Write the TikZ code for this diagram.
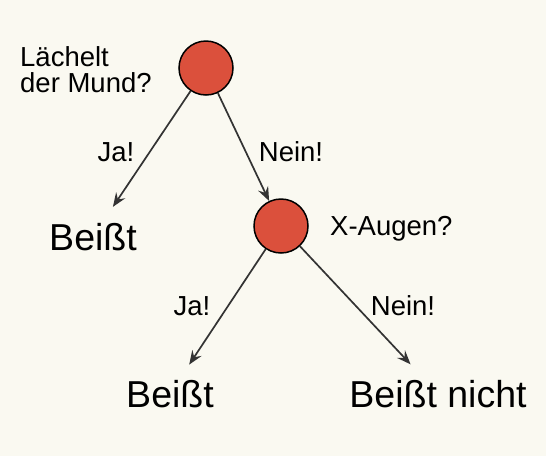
\documentclass[tikz,border=0pt]{standalone}
\usepackage{fontspec}
\setmainfont{Liberation Sans}
\usetikzlibrary{arrows.meta}
\definecolor{hintergrund}{RGB}{250,249,241}
\definecolor{knotenrot}{RGB}{219,80,60}
\definecolor{pfeilgrau}{RGB}{51,51,51}

\begin{document}
\begin{tikzpicture}[x=1pt, y=-1pt,
		frage/.style={circle, draw=black, line width=1.5pt, fill=knotenrot, minimum size=54pt, inner sep=0pt},
		txt/.style={font=\fontsize{27.5}{26}\selectfont, inner sep=0pt},
		blatt/.style={font=\fontsize{37.5}{40}\selectfont, inner sep=0pt},
		kante/.style={-{Stealth[length=14pt, width=11pt, inset=5pt]}, draw=pfeilgrau, line width=1.7pt}]
		\fill[hintergrund] (0,0) rectangle (546,456);
		% Fragen
		\node[frage] (F1) at (206, 68) {};
		\node[frage] (F2) at (281, 226) {};
		\node[txt, anchor=west, align=left] (T1) at (20, 70) {Lächelt\\der Mund?};
		\node[txt, anchor=base west] (T2) at (330, 235) {X-Augen?};
		% Antworten
		\node[blatt, anchor=base] (B1) at (93, 250) {Beißt};
		\node[blatt, anchor=base] (B2) at (170, 407) {Beißt};
		\node[blatt, anchor=base] (B3) at (438, 407) {Beißt nicht};
		% Kanten
		\draw[kante, shorten >=19pt] (F1) -- (B1);
		\draw[kante] (F1) -- (F2);
		\draw[kante, shorten >=18pt] (F2) -- (B2);
		\draw[kante, shorten >=21pt] (F2) -- (B3);
		% Beschriftungen
		\node[txt] (J1) at (116, 152) {Ja!};
		\node[txt] (N1) at (291, 152) {Nein!};
		\node[txt] (J2) at (192, 306) {Ja!};
		\node[txt] (N2) at (403, 306) {Nein!};
	\end{tikzpicture}
\end{document}
